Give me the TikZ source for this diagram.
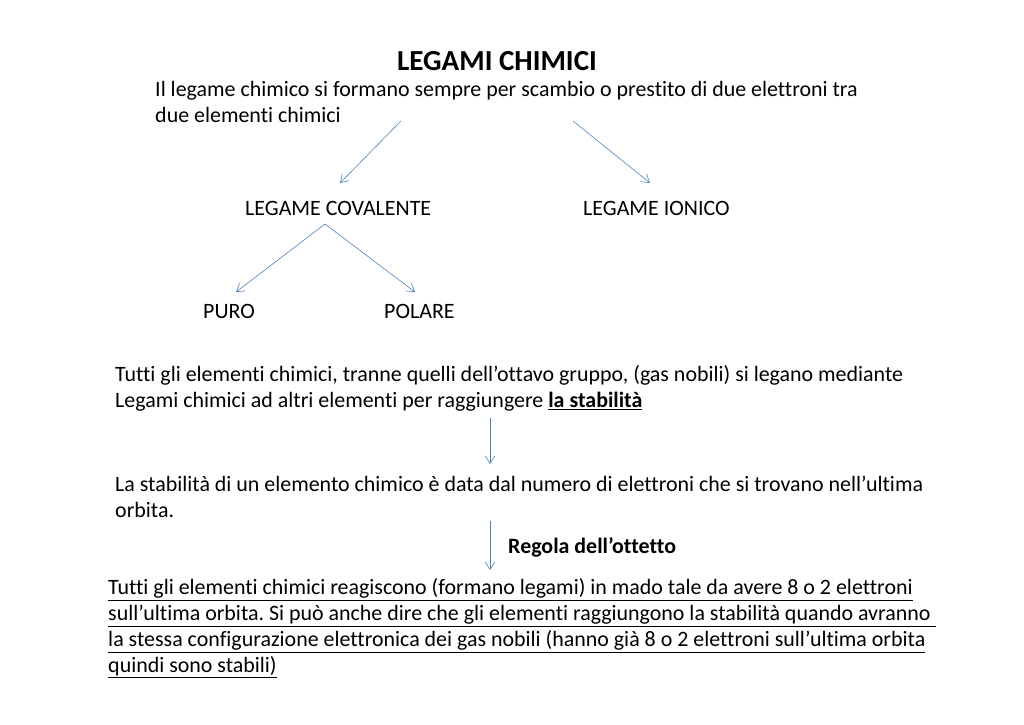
\documentclass[tikz,border=0pt]{standalone}
\usepackage{fontspec}
\setmainfont{Carlito}[Ligatures={NoCommon}]
\usepackage{xcolor}
\usetikzlibrary{arrows.meta, positioning}
\definecolor{lineblue}{RGB}{79,129,189}
\frenchspacing
\tikzset{
  txt/.style={inner sep=0pt, anchor=base west, align=left,
              font=\fontsize{18.1}{21.2}\selectfont},
  title/.style={inner sep=0pt, anchor=base, font=\fontsize{24}{29}\selectfont\bfseries},
  arrow/.style={-{Straight Barb[length=2.2mm, width=2.8mm]}, draw=lineblue, line width=0.5pt},
}

\begin{document}
\begin{tikzpicture}[x=0.029cm, y=-0.029cm]
  \useasboundingbox (0,0) rectangle (1024,724);
  \node[title] (titolo) at (497,70) {LEGAMI CHIMICI};
  % multi-line nodes: placed by the baseline of their last line
  \node[txt] (intro) at (155,122) {Il legame chimico si formano sempre per scambio o prestito di due elettroni tra\\due elementi chimici};
  \node[txt] (cov) at (245,215) {LEGAME COVALENTE};
  \node[txt] (ion) at (583,215) {LEGAME IONICO};
  \node[txt] (puro) at (203,318) {PURO};
  \node[txt] (pol) at (384,318) {POLARE};
  \node[txt] (tutti) at (115,407) {Tutti gli elementi chimici, tranne quelli dell’ottavo gruppo, (gas nobili) si legano mediante\\Legami chimici ad altri elementi per raggiungere \underline{\textbf{la stabilità}}};
  \node[txt] (stab) at (115,517) {La stabilità di un elemento chimico è data dal numero di elettroni che si trovano nell’ultima\\orbita.};
  \node[txt, font=\fontsize{18.1}{21.2}\selectfont\bfseries] (regola) at (508,553) {Regola dell’ottetto};
  \node[txt] (ottetto) at (108,672) {\underline{Tutti gli elementi chimici reagiscono (formano legami) in mado tale da avere 8 o 2 elettroni}\\
    \underline{sull’ultima orbita. Si può anche dire che gli elementi raggiungono la stabilità quando avranno\ }\\
    \underline{la stessa configurazione elettronica dei gas nobili (hanno già 8 o 2 elettroni sull’ultima orbita}\\
    \underline{quindi sono stabili)}};

  % connectors
  \coordinate (intro-l) at (401,121);
  \coordinate (intro-r) at (573,121);
  \coordinate (cov-top) at (325,224);
  \coordinate (tutti-out) at (490,418);
  \coordinate (stab-out) at (490,521);
  \draw[arrow] (intro-l) -- (340,183) coordinate (cov-in);
  \draw[arrow] (intro-r) -- (650,183) coordinate (ion-in);
  \draw[arrow] (cov-top) -- (236,292) coordinate (puro-in);
  \draw[arrow] (cov-top) -- (415,292) coordinate (pol-in);
  \draw[arrow] (tutti-out) -- (490,464) coordinate (stab-in);
  \draw[arrow] (stab-out) -- (490,570) coordinate (ottetto-in);
\end{tikzpicture}
\end{document}
